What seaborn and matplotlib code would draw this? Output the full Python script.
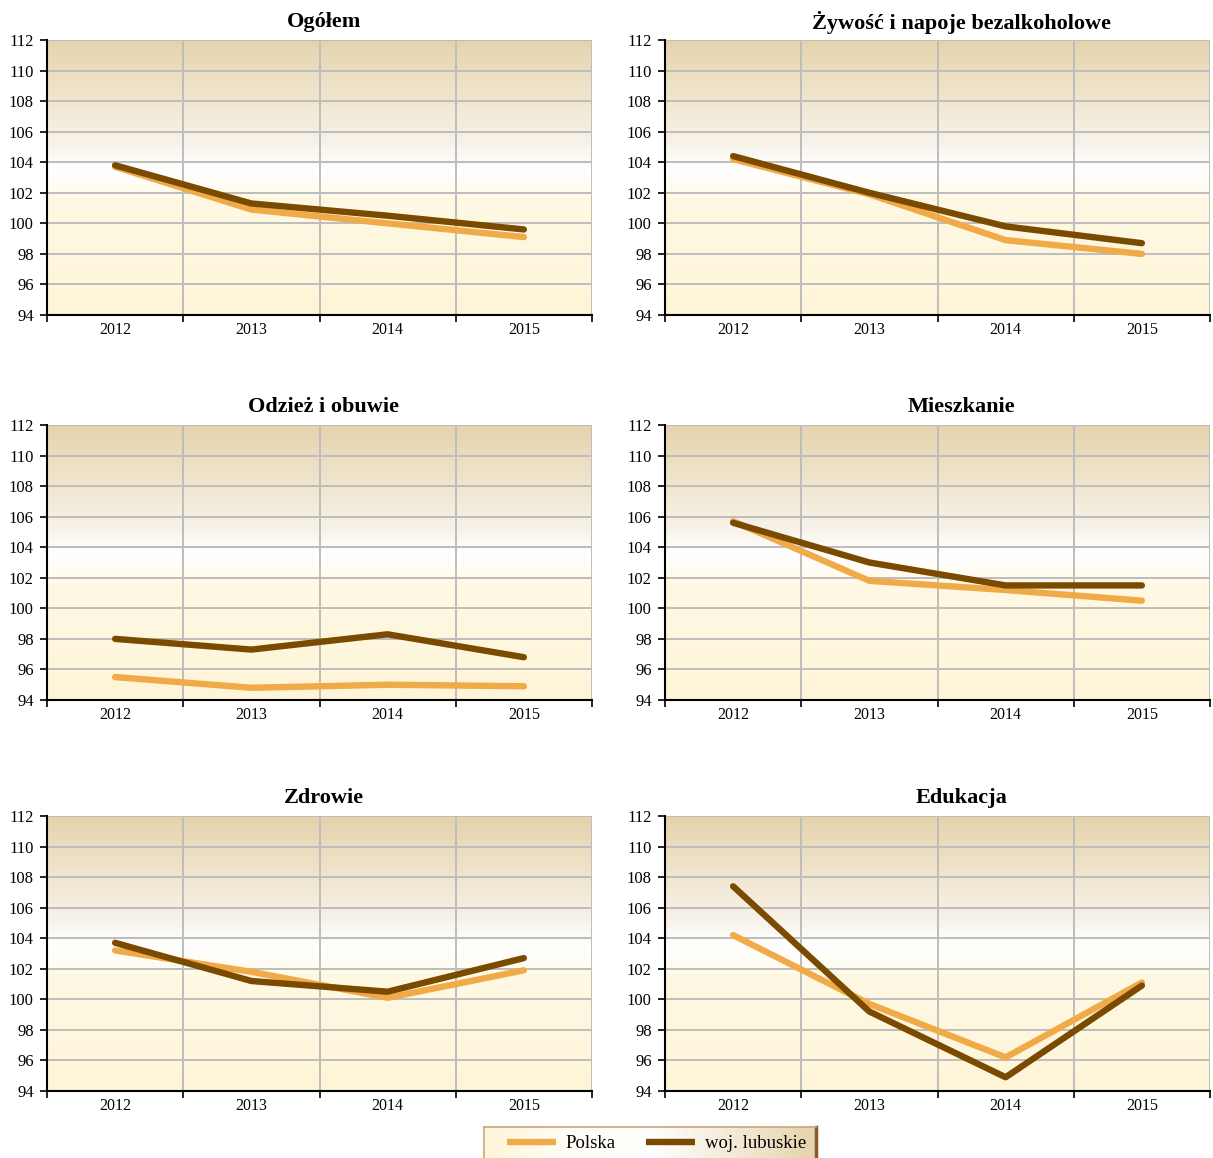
import numpy as np
import pandas as pd
import matplotlib
matplotlib.use("Agg")
import matplotlib.pyplot as plt
from matplotlib.colors import LinearSegmentedColormap
from matplotlib.lines import Line2D
import seaborn as sns

years = ["2012", "2013", "2014", "2015"]
series_names = ["Polska", "woj. lubuskie"]
titles = ["Ogółem", "Żywość i napoje bezalkoholowe", "Odzież i obuwie",
          "Mieszkanie", "Zdrowie", "Edukacja"]

polska = {
    "Ogółem": [103.7, 100.9, 100.0, 99.1],
    "Żywość i napoje bezalkoholowe": [104.2, 101.9, 98.9, 98.0],
    "Odzież i obuwie": [95.5, 94.8, 95.0, 94.9],
    "Mieszkanie": [105.7, 101.8, 101.2, 100.5],
    "Zdrowie": [103.2, 101.8, 100.1, 101.9],
    "Edukacja": [104.2, 99.7, 96.2, 101.1],
}
lubuskie = {
    "Ogółem": [103.8, 101.3, 100.5, 99.6],
    "Żywość i napoje bezalkoholowe": [104.4, 102.0, 99.8, 98.7],
    "Odzież i obuwie": [98.0, 97.3, 98.3, 96.8],
    "Mieszkanie": [105.6, 103.0, 101.5, 101.5],
    "Zdrowie": [103.7, 101.2, 100.5, 102.7],
    "Edukacja": [107.4, 99.2, 94.9, 100.9],
}
yticks = list(range(94, 113, 2))

c_pl = "#F0AA48"
c_lb = "#7A4A00"
palette = {"Polska": c_pl, "woj. lubuskie": c_lb}

sns.set_theme(style="white")
plt.rcParams["font.family"] = ["Liberation Serif", "DejaVu Serif"]
plt.rcParams["text.color"] = "black"
plt.rcParams["xtick.color"] = "black"
plt.rcParams["ytick.color"] = "black"
plt.rcParams["xtick.labelcolor"] = "black"
plt.rcParams["ytick.labelcolor"] = "black"

W, H = 1213, 1158
fig = plt.figure(figsize=(W / 100, H / 100), dpi=100)

bg_cmap = LinearSegmentedColormap.from_list(
    "bg", [(0.0, "#FEF5D8"), (0.42, "#FFF9E4"), (0.47, "#FFFDF5"),
           (0.53, "#FFFFFF"), (0.62, "#F8F3EA"), (0.8, "#EFE4CC"), (1.0, "#E5D3AC")])
grad = np.linspace(0, 1, 256).reshape(-1, 1)

lefts = [47, 665]
tops = [40, 425, 816]
title_x = [324, 961]
aw, ah = 545, 275

for i, t in enumerate(titles):
    r, c = divmod(i, 2)
    x0 = lefts[c]
    y0 = tops[r]
    ax = fig.add_axes([x0 / W, 1 - (y0 + ah) / H, aw / W, ah / H])
    df = pd.DataFrame({
        "rok": years * 2,
        "wartość": polska[t] + lubuskie[t],
        "seria": [series_names[0]] * 4 + [series_names[1]] * 4,
    })
    ax.imshow(grad, extent=[0, 1, 0, 1], transform=ax.transAxes, origin="lower",
              cmap=bg_cmap, aspect="auto", zorder=0)
    sns.lineplot(data=df, x="rok", y="wartość", hue="seria", palette=palette,
                 linewidth=4.6, ax=ax, legend=False, zorder=3,
                 solid_capstyle="round", solid_joinstyle="round")
    ax.set_xlim(-0.5, 3.5)
    ax.set_ylim(94, 112)
    ax.set_yticks(yticks)
    ax.set_yticklabels([str(v) for v in yticks], fontsize=12, color="black")
    ax.set_xticks(range(len(years)))
    ax.set_xticklabels(years, fontsize=11.5, color="black")
    ax.set_xticks([-0.5, 0.5, 1.5, 2.5, 3.5], minor=True)
    ax.tick_params(axis="x", which="major", length=0, pad=5)
    ax.tick_params(axis="x", which="minor", length=5, width=1.2, color="black", direction="out", bottom=True)
    ax.tick_params(axis="y", which="major", length=5, width=1.2, color="black", direction="out", left=True, pad=4.5)
    ax.grid(False)
    ax.grid(True, axis="y", which="major", color="#BDBDBD", linewidth=1.4, zorder=1)
    ax.grid(True, axis="x", which="minor", color="#BDBDBD", linewidth=1.4, zorder=1)
    ax.set_axisbelow(True)
    for s in ["top", "right"]:
        ax.spines[s].set_visible(False)
    for s in ["left", "bottom"]:
        ax.spines[s].set_color("black")
        ax.spines[s].set_linewidth(1.5)
        ax.spines[s].set_zorder(4)
    ax.set_xlabel("")
    ax.set_ylabel("")
    fig.text(title_x[c] / W, 1 - (y0 - 18) / H, t, fontsize=16, fontweight="bold",
             ha="center", va="center", color="black")

# legend with gradient box
lx0, lx1, ly0, ly1 = 484, 816, 1127, 1160
lax = fig.add_axes([lx0 / W, 1 - ly1 / H, (lx1 - lx0) / W, (ly1 - ly0) / H])
lgrad = np.linspace(0, 1, 256).reshape(1, -1)
lcmap = LinearSegmentedColormap.from_list("lg", ["#FEF5D8", "#FFFDF5", "#FFFFFF", "#F3EAD8", "#E5D3AC"])
lax.imshow(lgrad, extent=[0, 1, 0, 1], transform=lax.transAxes, cmap=lcmap, aspect="auto")
lax.set_xticks([])
lax.set_yticks([])
for s in lax.spines.values():
    s.set_color("#C9A77A")
    s.set_linewidth(1.2)
lax.spines["right"].set_color("#8B5A2B")
lax.spines["right"].set_linewidth(2.5)
handles = [Line2D([0], [0], color=c_pl, lw=4.6, solid_capstyle="butt"),
           Line2D([0], [0], color=c_lb, lw=4.6, solid_capstyle="butt")]
leg = lax.legend(handles, series_names, loc="center", ncol=2, frameon=False,
                 fontsize=13.5, handlelength=2.6, columnspacing=1.6, handletextpad=0.55,
                 bbox_to_anchor=(0.52, 0.5), labelcolor="black")

fig.savefig("out.png", dpi=100)
